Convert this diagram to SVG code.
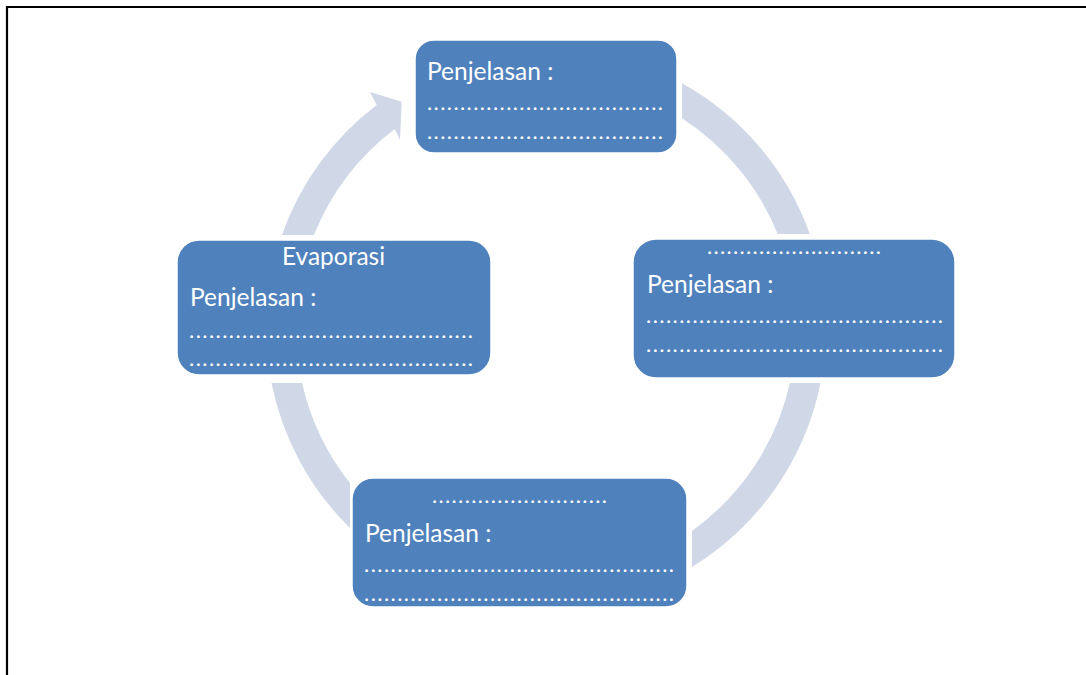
<svg xmlns="http://www.w3.org/2000/svg" width="1086" height="675" viewBox="0 0 1086 675">
<style>
.band{fill:#D0D8E8;}
.box{fill:#4F81BD;stroke:#FFFFFF;stroke-width:1.5;}
.t{font-family:Lato,"Open Sans",sans-serif;font-size:24.5px;fill:#FFFFFF;}
.d{font-family:Lato,"Open Sans",sans-serif;font-size:22px;fill:#FFFFFF;}
</style>
<rect x="0" y="0" width="1086" height="675" fill="#FFFFFF"/>
<path d="M7,675 V7 H1086" fill="none" stroke="#000000" stroke-width="2.2"/>
<g id="connectors">
<path class="band" d="M682,83.25 A280,280 0 0 1 809.75,234 L777.65,234 A250,250 0 0 0 682,118.2 Z"/>
<path class="band" d="M820.5,383 A280,280 0 0 1 692,566.9 L692,530.9 A250,250 0 0 0 789.9,383 Z"/>
<path class="band" d="M271.5,383 A280,280 0 0 0 350,528 L350,483.2 A250,250 0 0 1 302.1,383 Z"/>
<path class="band" d="M281.9,235 A280,280 0 0 1 376.7,105 L370,92 L401.7,101.7 L400,140 L394.8,128.9 A250,250 0 0 0 313.9,235 Z"/>
</g>
<g id="node-top">
<rect class="box" x="415" y="40" width="262" height="113" rx="19"/>
<text class="t" x="427" y="80">Penjelasan :</text>
<text class="d" x="427" y="110" textLength="236" lengthAdjust="spacing">....................................</text>
<text class="d" x="427" y="139" textLength="236" lengthAdjust="spacing">....................................</text>
</g>
<g id="node-right">
<rect class="box" x="633" y="239" width="322" height="139" rx="23"/>
<text class="d" x="794" y="254" text-anchor="middle" textLength="174" lengthAdjust="spacing">...........................</text>
<text class="t" x="647" y="293">Penjelasan :</text>
<text class="d" x="646" y="322.5" textLength="297" lengthAdjust="spacing">.............................................</text>
<text class="d" x="646" y="351.5" textLength="297" lengthAdjust="spacing">.............................................</text>
</g>
<g id="node-left">
<rect class="box" x="177" y="240" width="314" height="135" rx="22"/>
<text class="t" x="333.5" y="265" text-anchor="middle">Evaporasi</text>
<text class="t" x="190" y="306">Penjelasan :</text>
<text class="d" x="189" y="337.5" textLength="284" lengthAdjust="spacing">...........................................</text>
<text class="d" x="189" y="366" textLength="284" lengthAdjust="spacing">...........................................</text>
</g>
<g id="node-bottom">
<rect class="box" x="352" y="478" width="335" height="129" rx="21"/>
<text class="d" x="519.5" y="502.5" text-anchor="middle" textLength="175" lengthAdjust="spacing">...........................</text>
<text class="t" x="365" y="541.5">Penjelasan :</text>
<text class="d" x="364" y="571.5" textLength="310" lengthAdjust="spacing">...............................................</text>
<text class="d" x="364" y="600.5" textLength="310" lengthAdjust="spacing">...............................................</text>
</g>
</svg>
